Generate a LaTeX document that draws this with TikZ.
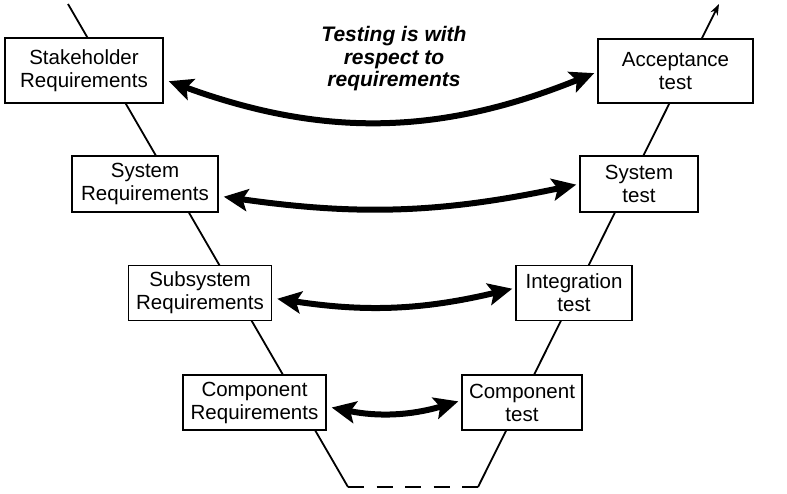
\documentclass[tikz,border=0pt]{standalone}
\usepackage{fontspec}
\setmainfont{Liberation Sans}
\usetikzlibrary{arrows.meta}

\begin{document}
\begin{tikzpicture}[x=1pt,y=-1pt,
  box/.style={rectangle,draw,line width=1.6pt,fill=white,align=center,inner sep=0pt,font=\fontsize{20.5}{23}\selectfont},
  vline/.style={line width=1.8pt},
  link/.style={line width=6pt,{Stealth[length=24pt,width=22pt,inset=5pt]}-{Stealth[length=24pt,width=22pt,inset=5pt]},shorten <=5pt,shorten >=3pt}]
\useasboundingbox (0,0) rectangle (787,493);
% the V
\coordinate (LT) at (68,4);
\coordinate (LB) at (348,487);
\coordinate (RB) at (478,487);
\coordinate (RT) at (719,4);
\draw[vline] (LT) -- (LB);
\draw[vline,dash pattern=on 16pt off 12.5pt] (LB) -- (RB);
\draw[vline,-{Stealth[length=11pt,width=8pt]}] (RB) -- (RT);
% left side
\node (SR) at (84,70.5) [box,minimum width=158pt,minimum height=65pt,line width=2pt] {Stakeholder\\Requirements};
\node (SYR) at (145,184) [box,minimum width=146pt,minimum height=56pt] {System\\Requirements};
\node (SSR) at (200,293) [box,minimum width=143pt,minimum height=55pt] {Subsystem\\Requirements};
\node (CR) at (254.5,402.5) [box,minimum width=143pt,minimum height=55pt] {Component\\Requirements};
% right side
\node (AT) at (675.5,71) [box,minimum width=155pt,minimum height=64pt,line width=2pt] {Acceptance\\test};
\node (ST) at (639,184) [box,minimum width=118pt,minimum height=56pt] {System\\test};
\node (IT) at (574,293) [box,minimum width=116pt,minimum height=55pt] {Integration\\test};
\node (CT) at (522,402.5) [box,minimum width=120pt,minimum height=55pt] {Component\\test};
% note
\node (TR) at (394,59) [align=center,font=\fontsize{21}{22.5}\selectfont\bfseries\itshape] {Testing is with\\respect to\\requirements};
% arrows
\draw[link] ([yshift=-9pt]SR.east) to[bend right=21] ([yshift=-1pt]AT.west);
\draw[link] ([yshift=-12pt]SYR.east) to[bend right=10] (ST.west);
\draw[link] ([yshift=-5pt]SSR.east) to[bend right=11] ([yshift=5pt]IT.west);
\draw[link] ([yshift=-4pt]CR.east) to[bend right=14] ([yshift=2pt]CT.west);
\end{tikzpicture}
\end{document}
